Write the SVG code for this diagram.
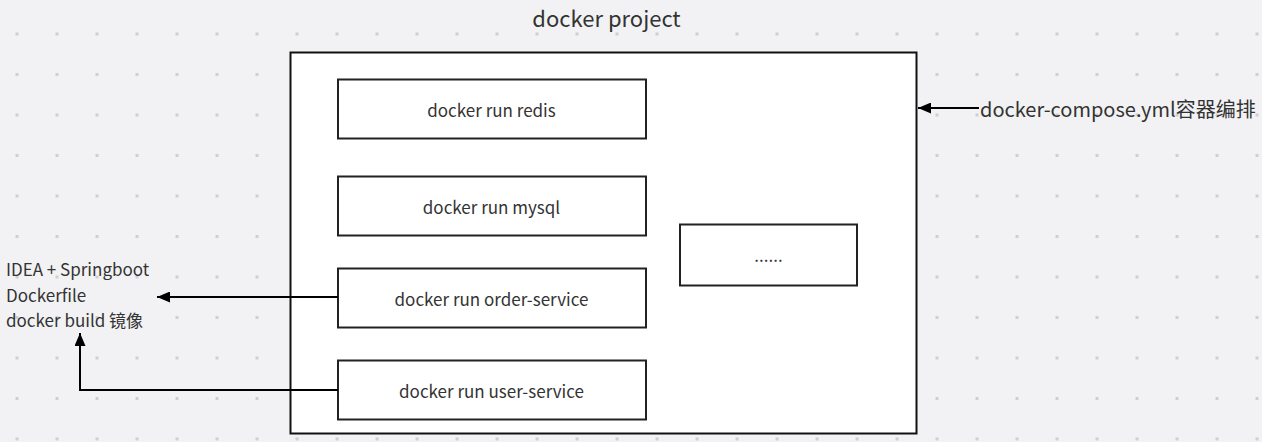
<svg xmlns="http://www.w3.org/2000/svg" width="1262" height="442" viewBox="0 0 1262 442">
<style>
.frame{fill:#ffffff;stroke:#111;stroke-width:2}
.box{fill:#ffffff;stroke:#222;stroke-width:2}
.t{font-family:"Noto Sans CJK SC","Noto Sans",sans-serif;fill:#333;}
.lbl{font-size:17px;text-anchor:middle}
.conn{fill:none;stroke:#000;stroke-width:2}
</style>
<defs>
<pattern id="dots" x="15.5" y="32.5" width="40" height="40.5" patternUnits="userSpaceOnUse">
<rect x="0" y="0" width="3" height="3" fill="#cfcfd2"/>
</pattern>
<marker id="arr" viewBox="0 0 13 11" refX="13" refY="5.5" markerWidth="13" markerHeight="11" markerUnits="userSpaceOnUse" orient="auto">
<path d="M0,0 L13,5.5 L0,11 Z" fill="#000"/>
</marker>
</defs>
<rect width="1262" height="442" fill="#f2f2f4"/>
<rect width="1262" height="442" fill="url(#dots)"/>
<text class="t" x="606.5" y="27" font-size="22" text-anchor="middle">docker project</text>
<g id="project">
<rect class="frame" x="290.5" y="52.5" width="626" height="381"/>
</g>
<g id="redis">
<rect class="box" x="338" y="79.5" width="308" height="59"/>
<text class="t lbl" x="491.5" y="116.5">docker run redis</text>
</g>
<g id="mysql">
<rect class="box" x="338" y="176.5" width="308" height="59"/>
<text class="t lbl" x="491.5" y="213.5">docker run mysql</text>
</g>
<g id="order-service">
<rect class="box" x="338" y="268.5" width="308" height="59"/>
<text class="t lbl" x="491.5" y="305.5">docker run order-service</text>
</g>
<g id="user-service">
<rect class="box" x="338" y="360.5" width="308" height="59"/>
<text class="t lbl" x="491.5" y="397.5">docker run user-service</text>
</g>
<g id="more">
<rect class="box" x="680" y="224.5" width="177" height="61"/>
<text class="t lbl" x="768.5" y="261.5">......</text>
</g>
<g id="idea">
<text class="t" x="6" y="275.5" font-size="17">IDEA + Springboot</text>
<text class="t" x="6" y="301.5" font-size="17">Dockerfile</text>
<text class="t" x="6" y="327" font-size="17">docker build 镜像</text>
</g>
<g id="compose">
<text class="t" x="980" y="116.5" font-size="20">docker-compose.yml容器编排</text>
</g>
<g id="connectors">
<path class="conn" d="M338,297 L157,297" marker-end="url(#arr)"/>
<path class="conn" d="M338,390 L80,390 L80,333" marker-end="url(#arr)"/>
<path class="conn" d="M979,108 L918,108" marker-end="url(#arr)"/>
</g>
</svg>
